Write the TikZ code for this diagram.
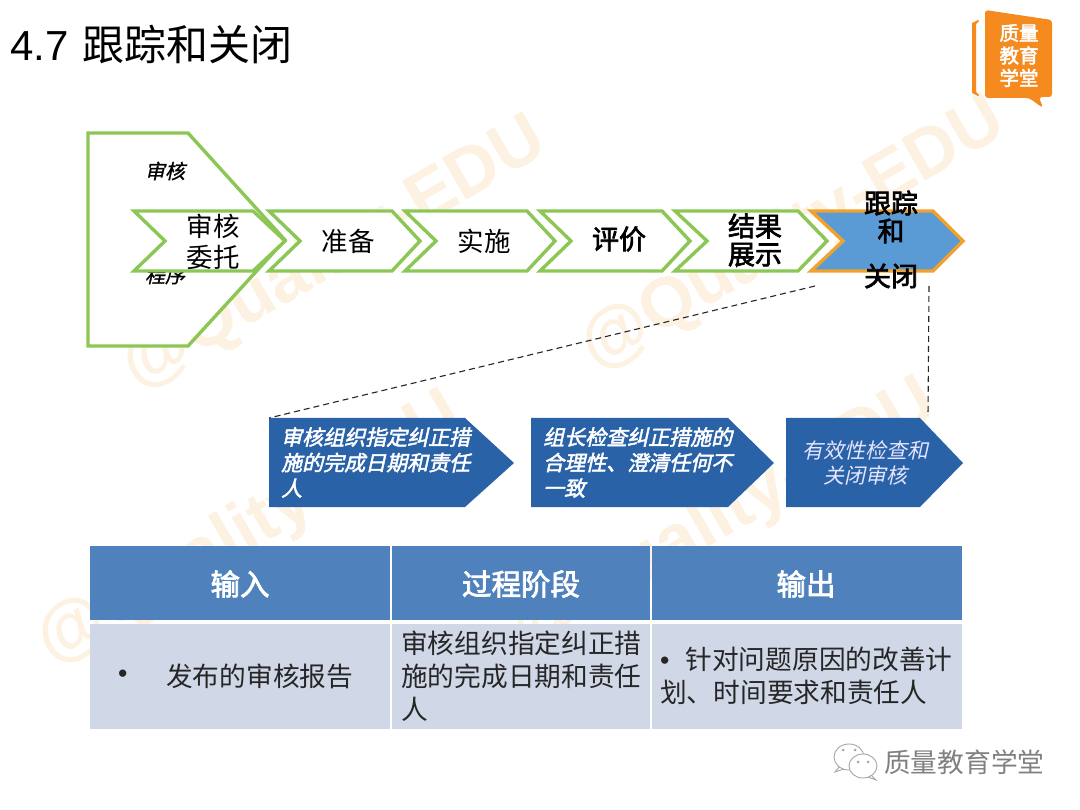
\documentclass[tikz,border=0pt]{standalone}
\usepackage{fontspec}
\setmainfont{Liberation Sans}
\newfontfamily\cj{Noto Sans CJK SC}
\newfontfamily\cjs[FakeSlant=0.22]{Noto Sans CJK SC}
\newfontfamily\cjm[FakeSlant=0.22,FakeBold=1]{Noto Sans CJK SC}
\newfontfamily\cjb[FakeBold=2.5]{Noto Sans CJK SC}
\newfontfamily\cjbs[FakeSlant=0.22,FakeBold=2.2]{Noto Sans CJK SC}
\newcommand{\fsz}[2]{\fontsize{#1}{#2}\selectfont}
\definecolor{grn}{HTML}{8CC755}
\definecolor{org}{HTML}{F2A22C}
\definecolor{blu}{HTML}{5B9BD5}
\definecolor{dblu}{HTML}{2A62A8}
\definecolor{hdr}{HTML}{4F81BD}
\definecolor{bdy}{HTML}{D0D8E8}
\definecolor{wm}{HTML}{FDF1E2}
\definecolor{lgo}{HTML}{F58A1F}
\tikzset{
 chev/.style={draw=grn,line width=3.4pt,fill=white,line join=miter},
 wmark/.style={text=wm,font=\bfseries\fsz{70}{70},rotate=30,inner sep=0},
 blab/.style={font=\cj\fsz{26.5}{31},align=center,inner sep=0,text=black},
 blabb/.style={font=\cjb\fsz{27}{28},align=center,inner sep=0,text=black},
 barrow/.style={fill=dblu,draw=none},
 btxt/.style={font=\cjbs\fsz{21}{25.5},text=white,align=left,anchor=west,inner sep=0},
 hcell/.style={fill=hdr,draw=none},
 bcell/.style={fill=bdy,draw=none},
 htxt/.style={font=\cjb\fsz{29.5}{30},text=white,inner sep=0},
 ctxt/.style={font=\cj\fsz{26.7}{33},text=black!85,inner sep=0,align=left},
 conn/.style={draw=black!85,dash pattern=on 6pt off 4pt,line width=1.1pt},
 wechat/.style={draw=black!35,fill=white,line width=0.9pt},
}
\begin{document}
\begin{tikzpicture}[x=1pt,y=-1pt]
\useasboundingbox (0,0) rectangle (1080,810);
\fill[white] (0,0) rectangle (1080,810);
% watermarks
\node[wmark] (w1) at (335,255) {@Quality-EDU};
\node[wmark] (w2) at (794,236) {@Quality-EDU};
\node[wmark] (w3) at (250,530) {@Quality-EDU};
\node[wmark] (w4) at (725,517) {@Quality-EDU};
% title
\node[anchor=west,inner sep=0,font=\fsz{42}{42}] (title) at (10,44) {4.7\hspace{13.7pt}{\cj 跟踪和关闭}};
% logo
\fill[lgo] (972,23) -- (978,20) -- (979,21) -- (976,24) -- (976,92) -- (979,95) -- (978,96) -- (972,93) -- cycle;
\fill[lgo,rounded corners=3pt] (985,10) -- (1052,20) -- (1052,97) -- (1039,97) -- (1043,108) -- (1029,98) -- (985,98) -- cycle;
\node[font=\cjb\fsz{19.5}{22.5},text=white,align=center,inner sep=0] (logo) at (1019,55.5) {质量\\教育\\学堂};
% big pentagon
\draw[chev] (88,133) -- (188,133) -- (285,240) -- (188,346) -- (88,346) -- cycle;
\node[font=\cjm\fsz{20}{20},inner sep=0] (p1) at (165,171) {审核};
\node[font=\cjm\fsz{20}{20},inner sep=0] (p2) at (165,275) {程序};
% chevrons
\draw[chev] (134,211) -- (253,211) -- (285,241) -- (253,271) -- (134,271) -- (165,241) -- cycle;
\draw[chev] (269,211) -- (392,211) -- (420,241) -- (392,271) -- (269,271) -- (300,241) -- cycle;
\draw[chev] (405,211) -- (527,211) -- (555,241) -- (527,271) -- (405,271) -- (436,241) -- cycle;
\draw[chev] (540,211) -- (662,211) -- (690,241) -- (662,271) -- (540,271) -- (571,241) -- cycle;
\draw[chev] (675,211) -- (798,211) -- (827,241) -- (798,271) -- (675,271) -- (707,241) -- cycle;
\draw[chev,draw=org,fill=blu] (811,211) -- (933,211) -- (963,241) -- (933,271) -- (811,271) -- (843,241) -- cycle;
\node[blab] (c1) at (213,241.5) {审核\\委托};
\node[blab] (c2) at (348,241) {准备};
\node[blab] (c3) at (484,241) {实施};
\node[blabb] (c4) at (619,239) {评价};
\node[blabb] (c5) at (755,240) {结果\\展示};
\node[blabb] (c6a) at (891,203) {跟踪};
\node[blabb] (c6b) at (891,231) {和};
\node[blabb] (c6c) at (891,276) {关闭};
% anchors for dashed connectors
\coordinate (d1) at (815,286);
\coordinate (d2) at (929,286);
% blue arrows
\fill[barrow] (269,418) coordinate (a1) -- (465,418) -- (514,463) -- (465,507) -- (269,507) -- cycle;
\fill[barrow] (531,418) -- (728,418) -- (774,463) -- (728,507) -- (531,507) -- cycle;
\fill[barrow] (786,418) -- (920,418) -- (963,463) -- (920,507) -- (786,507) -- cycle;
\coordinate (a3) at (928,416);
\draw[conn] (d1) -- (a1);
\draw[conn] (d2) -- (a3);
\node[btxt] (b1) at (281,462.5) {审核组织指定纠正措\\施的完成日期和责任\\人};
\node[btxt] (b2) at (543,462.5) {组长检查纠正措施的\\合理性、澄清任何不\\一致};
\node[font=\cjs\fsz{21}{25},text=white!90!blue,align=center,inner sep=0] (b3) at (865,463) {有效性检查和\\关闭审核};
% table
\fill[hcell] (90,546) rectangle (390,620);
\fill[hcell] (392,546) rectangle (650,620);
\fill[hcell] (652,546) rectangle (962,620);
\fill[bcell] (90,624) rectangle (390,729);
\fill[bcell] (392,624) rectangle (650,729);
\fill[bcell] (652,624) rectangle (962,729);
\node[htxt] (t1) at (240,584) {输入};
\node[htxt] (t2) at (521,584) {过程阶段};
\node[htxt] (t3) at (806,584) {输出};
\node[ctxt,anchor=west] (t4b) at (118,676) {{\rmfamily •}};
\node[ctxt,anchor=west] (t4) at (166,676) {发布的审核报告};
\node[ctxt,anchor=west] (t5) at (401,676) {审核组织指定纠正措\\施的完成日期和责任\\人};
\node[ctxt,anchor=west] (t6) at (660,676) {{\rmfamily •}\hspace{16pt}针对问题原因的改善计\\划、时间要求和责任人};
% footer
\node[font=\cj\fsz{26.7}{27},text=black!50,inner sep=0,anchor=west] (f) at (884,762) {质量教育学堂};
\draw[wechat] (840,766) -- (835,772) -- (844,769) -- cycle;
\draw[wechat] (849,757) ellipse (15 and 13);
\draw[wechat] (871,775) -- (876,780) -- (868,777) -- cycle;
\draw[wechat] (863,766) ellipse (14 and 12);
\fill[black!35] (843,750) circle (1.5) (855,750) circle (1.5) (858,762) circle (1.5) (868,762) circle (1.5);
\end{tikzpicture}
\end{document}
